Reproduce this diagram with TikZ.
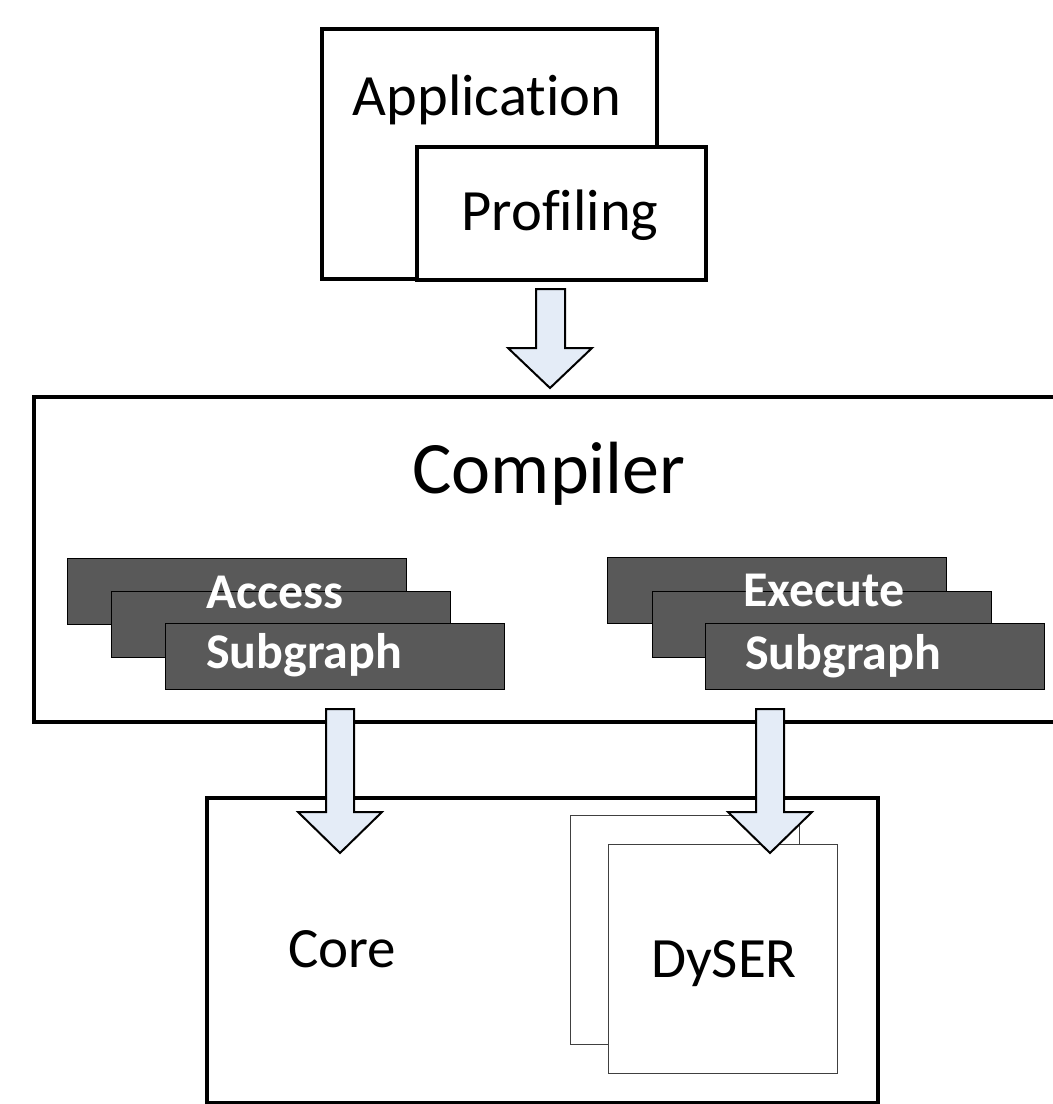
\documentclass[tikz,border=0pt]{standalone}
\usepackage{fontspec}
\setmainfont{Carlito}[Ligatures={NoCommon}]
\definecolor{arrowfill}{HTML}{E4ECF7}
\definecolor{darkbox}{HTML}{595959}
\definecolor{thinline}{HTML}{404040}
\begin{document}
\begin{tikzpicture}[x=1pt,y=-1pt,
  thickbox/.style={draw, line width=4pt, fill=white, inner sep=0pt, anchor=north west},
  subbox/.style={draw=black, line width=1pt, fill=darkbox, inner sep=0pt, anchor=north west, minimum width=339pt, minimum height=66pt},
  dyserbox/.style={draw=thinline, line width=1pt, fill=white, inner sep=0pt, anchor=north west, minimum width=229pt, minimum height=229pt},
  blockarrow/.style={draw=black, line width=2pt, fill=arrowfill, line join=miter},
  bigtext/.style={anchor=base, inner sep=0pt, font=\fontsize{58.5}{60}\selectfont},
  subtext/.style={anchor=base west, inner sep=0pt, text=white, font=\bfseries\fontsize{50}{60}\selectfont}
]
\useasboundingbox (0,0) rectangle (1053,1104);
\clip (0,0) rectangle (1053,1104);
\fill[white] (0,0) rectangle (1053,1104);

% top boxes
\node[thickbox, minimum width=335pt, minimum height=250pt] (app) at (320,27) {};
\node[bigtext] (apptxt) at (487,115) {Application};
\node[thickbox, minimum width=289pt, minimum height=133pt] (prof) at (415,145) {};
\node[bigtext] (proftxt) at (560,230) {Profiling};

% compiler
\node[thickbox, minimum width=1028pt, minimum height=325pt] (comp) at (32,395) {};
\node[bigtext, font=\fontsize{74}{76}\selectfont] (comptxt) at (549,493) {Compiler};

\node[subbox] (acc1) at (67,558) {};
\node[subbox] (acc2) at (111,591) {};
\node[subbox] (acc3) at (165,623) {};
\node[subtext] (acctxt1) at (206,608) {Access};
\node[subtext] (acctxt2) at (206,668) {Subgraph};

\node[subbox] (exe1) at (607,557) {};
\node[subbox] (exe2) at (652,591) {};
\node[subbox] (exe3) at (705,623) {};
\node[subtext] (exetxt1) at (743,606) {Execute};
\node[subtext] (exetxt2) at (745,669) {Subgraph};

% core
\node[thickbox, minimum width=671pt, minimum height=305pt] (core) at (205,796) {};
\node[bigtext, font=\fontsize{57}{60}\selectfont] (coretxt) at (342,967) {Core};
\node[dyserbox] (dys1) at (570,815) {};
\node[dyserbox] (dys2) at (608,844) {};
\node[bigtext, font=\fontsize{57}{60}\selectfont] (dystxt) at (724,977) {DySER};

% block arrows
\draw[blockarrow] (536,289) -- (565,289) -- (565,348) -- (592,348) -- (550,388) -- (508,348) -- (536,348) -- cycle;
\draw[blockarrow] (326,709) -- (354,709) -- (354,812) -- (382,812) -- (340,853) -- (298,812) -- (326,812) -- cycle;
\draw[blockarrow] (756,709) -- (784,709) -- (784,812) -- (812,812) -- (770,853) -- (728,812) -- (756,812) -- cycle;
\end{tikzpicture}
\end{document}
